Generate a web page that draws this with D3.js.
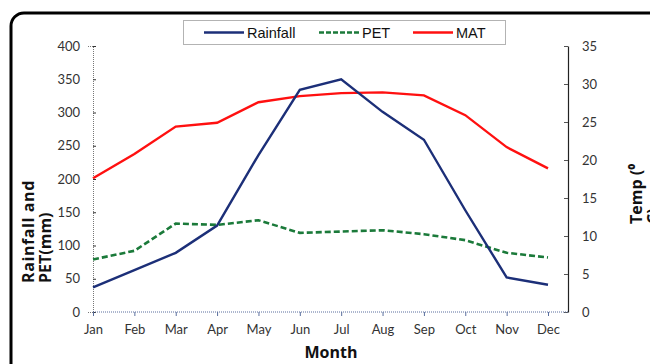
<!DOCTYPE html>
<html>
<head>
<meta charset="utf-8">
<script src="https://cdn.jsdelivr.net/npm/d3@7"></script>
<style>
  html, body { margin: 0; padding: 0; background: #fff; }
  svg { display: block; }
</style>
</head>
<body>
<svg id="chart" width="650" height="364"></svg>
<script>
// Monthly climate: rainfall and PET (mm, left axis), mean air temperature (°C, right axis)
const months   = ["Jan","Feb","Mar","Apr","May","Jun","Jul","Aug","Sep","Oct","Nov","Dec"];
const rainfall = [37, 63, 89, 130, 236, 334, 350, 301, 259, 153, 52, 41];
const pet      = [79, 92, 133, 131, 138, 119, 121, 123, 117, 108, 89, 82];
const mat      = [17.6, 20.8, 24.4, 24.9, 27.6, 28.4, 28.8, 28.9, 28.5, 25.9, 21.7, 18.9];
const leftTicks  = [0, 50, 100, 150, 200, 250, 300, 350, 400];
const rightTicks = [0, 5, 10, 15, 20, 25, 30, 35];

const svg = d3.select("#chart");
const tickFont = "Lato, 'Open Sans', sans-serif";
const boldFont = "'Open Sans', 'DejaVu Sans', sans-serif";

// outer frame with rounded corner (runs past the right and bottom edges)
svg.append("rect")
  .attr("x", 11).attr("y", 13)
  .attr("width", 680).attr("height", 400)
  .attr("rx", 13)
  .attr("fill", "none").attr("stroke", "#000").attr("stroke-width", 3);

const x = d3.scalePoint().domain(months).range([93, 548]);
const yL = d3.scaleLinear().domain([0, 400]).range([312, 46]);
const yR = d3.scaleLinear().domain([0, 35]).range([312, 46]);
const axisRight = 568;

// left axis
const gL = svg.append("g").attr("transform", "translate(93,0)")
  .call(d3.axisLeft(yL).tickValues(leftTicks).tickSize(5).tickPadding(8));
gL.select(".domain").attr("stroke", "#777").attr("stroke-dasharray", "1,1");
gL.selectAll(".tick line").attr("x2", 3).attr("stroke", "#333");
gL.selectAll(".tick text").attr("font-family", tickFont).attr("font-size", 13).attr("fill", "#333");

// right axis
const gR = svg.append("g").attr("transform", `translate(${axisRight},0)`)
  .call(d3.axisRight(yR).tickValues(rightTicks).tickSize(0).tickPadding(14));
gR.select(".domain").attr("stroke", "#222").attr("stroke-width", 1.2);
gR.selectAll(".tick").append("line").attr("x1", -4).attr("x2", 0).attr("stroke", "#555");
gR.selectAll(".tick text").attr("font-family", tickFont).attr("font-size", 13).attr("fill", "#333");

// bottom axis
const gB = svg.append("g").attr("transform", "translate(0,312)")
  .call(d3.axisBottom(x).tickSize(4).tickPadding(9));
gB.select(".domain").remove();
gB.append("line").attr("x1", 93).attr("x2", axisRight).attr("y1", 0).attr("y2", 0)
  .attr("stroke", "#5a6f9e").attr("stroke-dasharray", "1,1");
gB.selectAll(".tick line").attr("stroke", "#5a6f9e");
gB.selectAll(".tick text").attr("font-family", tickFont).attr("font-size", 13).attr("fill", "#333");

// series lines
const lineL = d3.line().x((d, i) => x(months[i])).y(d => yL(d));
const lineR = d3.line().x((d, i) => x(months[i])).y(d => yR(d));

svg.append("path").datum(mat).attr("d", lineR)
  .attr("fill", "none").attr("stroke", "#ff1010").attr("stroke-width", 2.4);
svg.append("path").datum(pet).attr("d", lineL)
  .attr("fill", "none").attr("stroke", "#1b7a3a").attr("stroke-width", 2.6)
  .attr("stroke-dasharray", "6,3");
svg.append("path").datum(rainfall).attr("d", lineL)
  .attr("fill", "none").attr("stroke", "#1c2f78").attr("stroke-width", 2.4);

// axis titles
const yTitle = svg.append("g").attr("font-family", boldFont).attr("font-weight", "bold")
  .attr("font-size", 16).attr("fill", "#111");
yTitle.append("text").attr("transform", "translate(34,283) rotate(-90)")
  .attr("letter-spacing", 0.6).text("Rainfall and");
yTitle.append("text").attr("transform", "translate(51,283) rotate(-90)").text("PET(mm)");

const tTitle = svg.append("g").attr("font-family", boldFont).attr("font-weight", "bold")
  .attr("font-size", 16).attr("fill", "#111");
tTitle.append("text").attr("transform", "translate(642,224) rotate(-90)").text("Temp (\u2070");
tTitle.append("text").attr("transform", "translate(659,224) rotate(-90)").text("C)");

svg.append("text").attr("x", 331).attr("y", 358)
  .attr("text-anchor", "middle").attr("font-family", boldFont).attr("font-weight", "bold")
  .attr("font-size", 16).attr("fill", "#111").text("Month");

// legend
const legendItems = [
  { name: "Rainfall", color: "#1c2f78", dash: null,  x: 204 },
  { name: "PET",      color: "#1b7a3a", dash: "5,2", x: 319 },
  { name: "MAT",      color: "#ff1010", dash: null,  x: 413 }
];
svg.append("rect").attr("x", 183.5).attr("y", 20.5).attr("width", 322).attr("height", 24)
  .attr("fill", "#fff").attr("stroke", "#666").attr("stroke-dasharray", "1,1");
const lg = svg.selectAll(".lg").data(legendItems).enter().append("g").attr("class", "lg");
lg.append("line").attr("x1", d => d.x).attr("x2", d => d.x + 40).attr("y1", 32.5).attr("y2", 32.5)
  .attr("stroke", d => d.color).attr("stroke-width", 2.4)
  .attr("stroke-dasharray", d => d.dash);
lg.append("text").attr("x", d => d.x + 43).attr("y", 38)
  .attr("font-family", "'Liberation Sans', Arial, sans-serif").attr("font-size", 14.5)
  .attr("fill", "#111").text(d => d.name);
</script>
</body>
</html>
